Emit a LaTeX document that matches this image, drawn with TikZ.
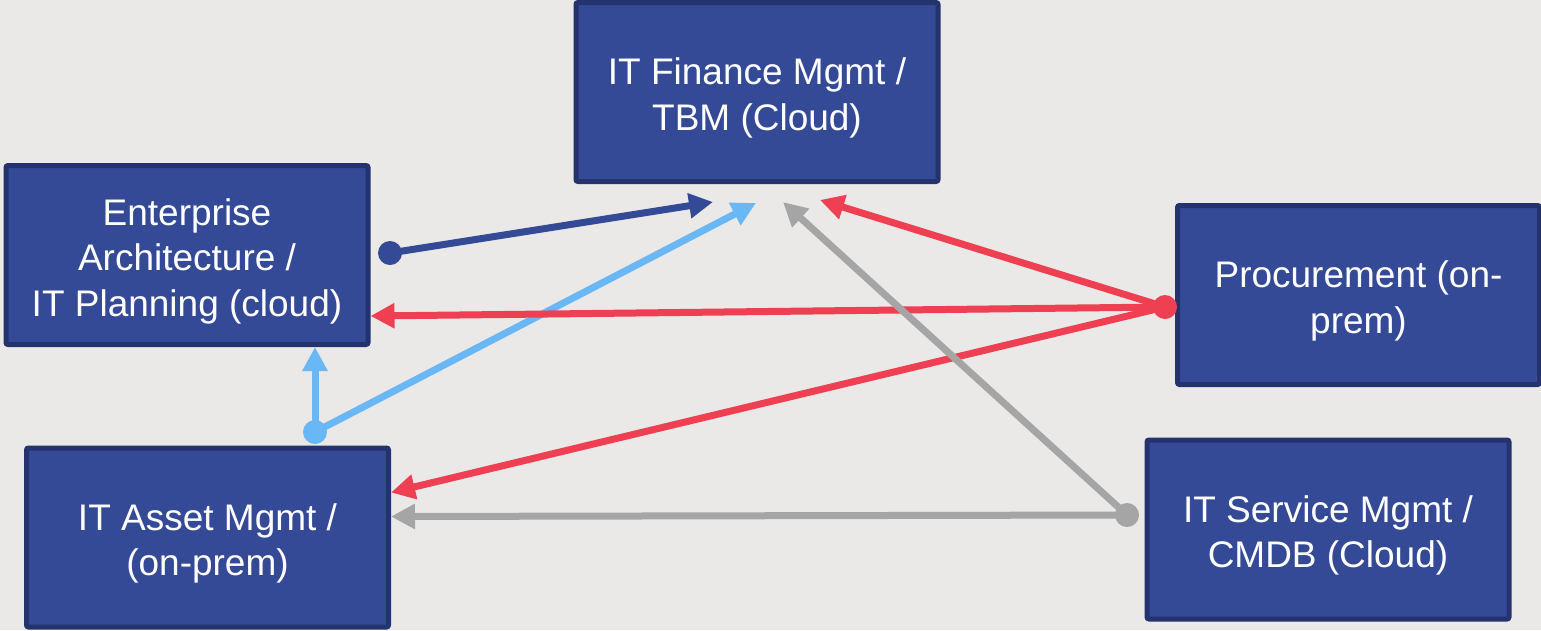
\documentclass[tikz,border=0pt]{standalone}
\usepackage{fontspec}
\setmainfont{Liberation Sans}
\usetikzlibrary{arrows.meta, positioning}
\definecolor{bg}{RGB}{234,233,231}
\definecolor{boxblue}{RGB}{52,74,150}
\definecolor{boxedge}{RGB}{36,51,110}
\definecolor{lightblue}{RGB}{105,184,245}
\definecolor{red}{RGB}{238,64,82}
\definecolor{gray}{RGB}{165,165,165}
\newcommand{\topstrut}{\rule{0pt}{39pt}}

\begin{document}
\begin{tikzpicture}[x=1pt, y=-1pt, >={Triangle[length=24pt, width=24pt]},
	box/.style={draw=boxedge, line width=5pt, fill=boxblue, text=white,
		minimum width=362pt, minimum height=179pt, align=center,
		rounded corners=2pt, font=\fontsize{37}{45.5}\selectfont},
	link/.style={line width=7pt, ->},
	dot/.style={circle, fill, inner sep=0pt, minimum size=24pt}]

\fill[bg] (0,0) rectangle (1541,630);
\useasboundingbox (0,0) rectangle (1541,630);

\node[box] (fin) at (757,92) {\topstrut IT Finance Mgmt /\\TBM (Cloud)};
\node[box] (ea) at (187,255) {\topstrut Enterprise\\Architecture /\\IT Planning (cloud)};
\node[box] (proc) at (1358.5,295) {\topstrut Procurement (on-\\prem)};
\node[box] (itam) at (207.5,537.5) {\topstrut IT Asset Mgmt /\\(on-prem)};
\node[box] (itsm) at (1328,529.5) {\topstrut IT Service Mgmt /\\CMDB (Cloud)};

% start dots
\node[dot, boxblue] (ea out) at (390,253) {};
\node[dot, lightblue] (itam out) at (315,432) {};
\node[dot, red] (proc out) at (1165,307) {};
\node[dot, gray] (itsm out) at (1127,515) {};

% free ends under the finance box
\coordinate (fin in1) at (713,202);
\coordinate (fin in2) at (756,203);
\coordinate (fin in3) at (783,202);
\coordinate (fin in4) at (820,200);

\draw[link, boxblue] (ea out.center) -- (fin in1);

\draw[link, lightblue] (itam out.center) -- (fin in2);
\draw[link, lightblue] (itam out.center) -- (ea.south -| itam out);

\draw[link, red] (proc out.center) -- (fin in4);
\draw[link, red] (proc out.center) -- ([yshift=-61pt]ea.east);
\draw[link, red] (proc out.center) -- ([yshift=45pt]itam.east);

\draw[link, gray] (itsm out.center) -- (fin in3);
\draw[link, gray] (itsm out.center) -- ([yshift=21pt]itam.east);

\end{tikzpicture}
\end{document}
